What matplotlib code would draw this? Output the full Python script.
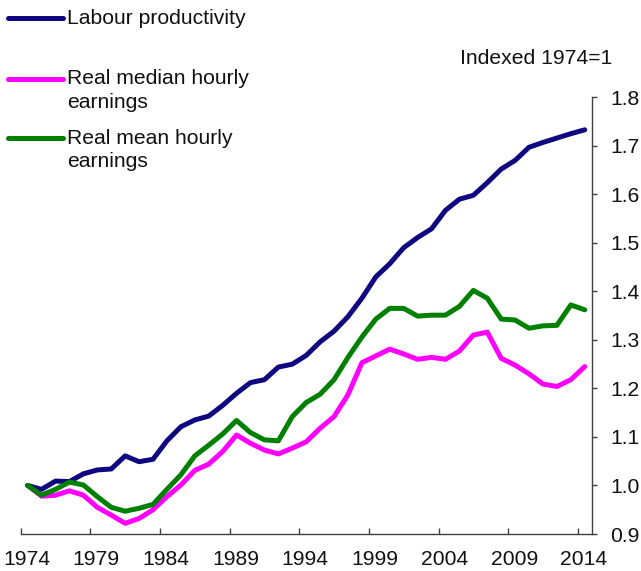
import matplotlib
matplotlib.use("Agg")
import matplotlib.pyplot as plt
import matplotlib.transforms as mtransforms
import numpy as np

# --- data ---
years = list(range(1974, 2015))

labour_productivity = [
    1.000, 0.992, 1.009, 1.008, 1.024, 1.032, 1.034, 1.061, 1.049, 1.054,
    1.092, 1.121, 1.135, 1.143, 1.165, 1.190, 1.212, 1.218, 1.244, 1.250,
    1.268, 1.296, 1.318, 1.348, 1.386, 1.430, 1.457, 1.490, 1.511, 1.529,
    1.567, 1.590, 1.598, 1.624, 1.652, 1.670, 1.697, 1.707, 1.716, 1.725,
    1.733,
]
real_median = [
    1.000, 0.978, 0.980, 0.989, 0.980, 0.955, 0.939, 0.922, 0.932, 0.950,
    0.977, 1.001, 1.031, 1.044, 1.070, 1.104, 1.087, 1.073, 1.065, 1.077,
    1.090, 1.118, 1.142, 1.187, 1.253, 1.267, 1.281, 1.271, 1.260, 1.264,
    1.260, 1.277, 1.310, 1.316, 1.262, 1.248, 1.230, 1.209, 1.204, 1.218,
    1.245,
]
real_mean = [
    1.000, 0.980, 0.992, 1.007, 1.001, 0.977, 0.955, 0.947, 0.953, 0.961,
    0.992, 1.022, 1.061, 1.083, 1.106, 1.134, 1.109, 1.094, 1.092, 1.142,
    1.171, 1.188, 1.218, 1.264, 1.306, 1.343, 1.365, 1.365, 1.349, 1.351,
    1.351, 1.369, 1.402, 1.386, 1.343, 1.341, 1.324, 1.329, 1.330, 1.372,
    1.362,
]

series_labels = ["Labour productivity", "Real median hourly\nearnings",
                 "Real mean hourly\nearnings"]
series_colors = ["#10067F", "#FF00FF", "#008000"]
x_ticks = list(range(1974, 2015, 5))
y_ticks = [0.9, 1.0, 1.1, 1.2, 1.3, 1.4, 1.5, 1.6, 1.7, 1.8]

plt.rcParams['font.family'] = ['Liberation Sans', 'DejaVu Sans']
FS = 15.2

W, H = 641, 571
fig = plt.figure(figsize=(W / 100, H / 100), dpi=100)
# axes box in pixels: left 20.7, right 591.7, top 97.3, bottom 534
ax = fig.add_axes([20.7 / W, (H - 534) / H, 571 / W, (534 - 97.3) / H])

# categories are centred between tick marks (Excel-style)
xpos = np.array(years) + 0.5
for vals, col in zip([labour_productivity, real_median, real_mean], series_colors):
    ax.plot(xpos, vals, color=col, lw=3.6, solid_capstyle='round',
            solid_joinstyle='round', clip_on=False)

ax.set_xlim(1974, 2015)
ax.set_ylim(0.9, 1.8)
ax.set_xticks(x_ticks)
ax.set_yticks(y_ticks)
ax.set_yticklabels([f"{v:.1f}" for v in y_ticks])

for s in ['top', 'left']:
    ax.spines[s].set_visible(False)
for s in ['bottom', 'right']:
    ax.spines[s].set_color('#404040')
    ax.spines[s].set_linewidth(1.0)

ax.yaxis.tick_right()
ax.tick_params(axis='y', direction='out', length=3.3, width=1.0,
               color='#404040', pad=10, labelsize=FS, labelcolor='#111111')
ax.tick_params(axis='x', direction='in', length=4.5, width=1.0,
               color='#404040', pad=11.5, labelsize=FS, labelcolor='#111111')

# year labels sit a little to the right of their ticks in the original
shift = mtransforms.ScaledTranslation(6 / 100, 0, fig.dpi_scale_trans)
for t in ax.xaxis.get_major_ticks():
    t.label1.set_transform(t.label1.get_transform() + shift)

# unit label
fig.text(612 / W, 1 - 58 / H, "Indexed 1974=1", ha='right', va='center',
         fontsize=FS, color='#111111')

# hand-drawn legend at top left
legend_rows = [18.3, 79, 138]   # pixel y of the first text row of each entry
row_step = 23.5
for lab, col, y0 in zip(series_labels, series_colors, legend_rows):
    fy = 1 - y0 / H
    fig.add_artist(plt.Line2D([8.3 / W, 63.3 / W], [fy, fy], color=col, lw=3.6,
                              solid_capstyle='round', transform=fig.transFigure))
    for k, part in enumerate(lab.split("\n")):
        fig.text(67 / W, 1 - (y0 + k * row_step) / H, part, ha='left', va='center',
                 fontsize=FS, color='#111111')

fig.savefig("out.png", dpi=100)
